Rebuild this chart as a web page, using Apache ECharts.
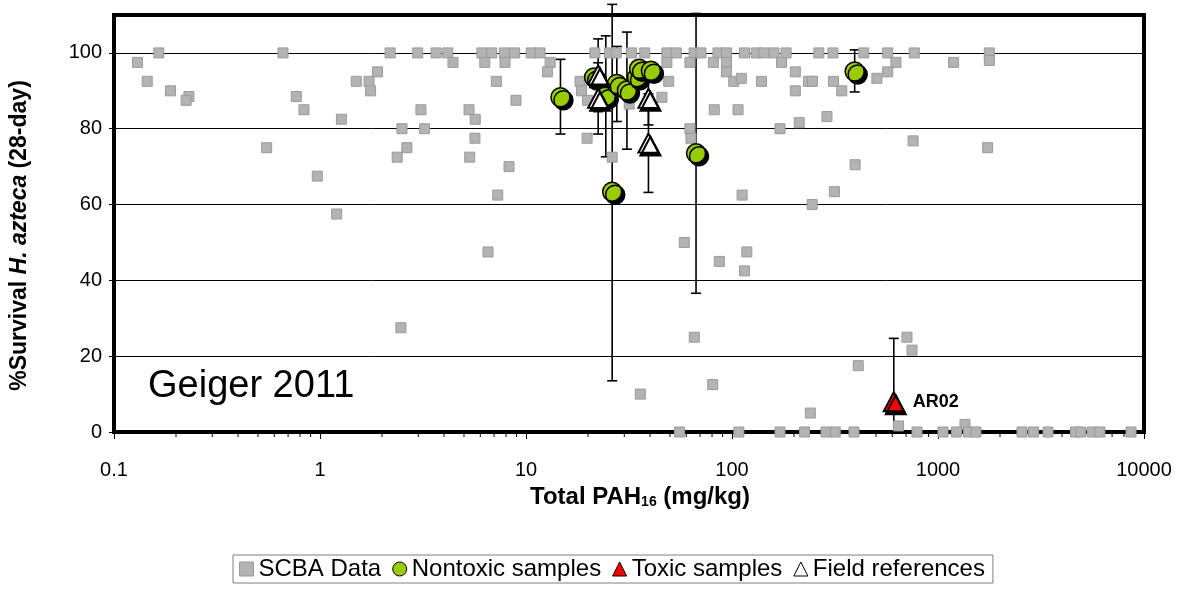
<!DOCTYPE html>
<html><head><meta charset="utf-8">
<script src="https://cdn.jsdelivr.net/npm/echarts@6/dist/echarts.min.js"></script>
<style>html,body{margin:0;padding:0;background:#fff}#c{width:1187px;height:590px}</style>
</head><body><div id="c"></div>
<script>
// ---- DATA ----
const scbaX = [
  0.165,0.130,0.145,0.188,0.231,0.224,0.661,0.767,0.836,1.27,0.551,0.970,1.205,
  2.19,2.98,3.66,4.17,4.42,1.90,1.50,1.73,1.76,3.09,2.50,3.22,2.64,2.37,
  5.29,5.67,5.65,5.33,6.11,6.81,7.85,8.81,6.31,7.91,7.18,8.94,8.27,7.29,6.54,2.47,
  10.6,11.7,21.6,25.4,27.4,32.5,37.7,48.3,53.6,65.5,70.7,85.5,94.0,115,131,143,160,183,264,309,436,570,767,1775,
  13.1,48.3,62.5,81.2,94.0,174,625,1191,1775,
  12.7,94.0,203,570,
  18.3,49.3,102,139,235,246,311,111,505,
  18.6,203,341,
  45.7,19.9,31.7,82.0,107,289,212,62.5,171,19.8,63.2,757,1742,26.2,396,314,112,245,
  58.7,86.8,118,115,65.6,410,80.6,35.9,240,707,748,643,1352,
  55.6,108,171,225,286,317,391,791,1057,1230,1406,1528,2558,2909,3420,4650,4920,5595,6110,8650
];
const scbaY = [
  100,97.5,92.5,90,88.5,87.5,100,88.5,85,82.5,75,67.5,57.5,
  100,100,100,100,97.5,95,92.5,92.5,90,85,80,80,75,72.5,
  85,82.5,77.5,72.5,100,100,100,100,97.5,97.5,92.5,87.5,70,62.5,47.5,27.5,
  100,100,100,100,100,100,100,100,100,100,100,100,100,100,100,100,100,100,100,100,100,100,100,100,
  97.5,97.5,97.5,97.5,97.5,97.5,97.5,97.5,98,
  95,95,95,95,
  92.5,92.5,92.5,92.5,92.5,92.5,92.5,93.3,93.3,
  90,90,90,
  88.3,87.5,86.5,85,85,83.2,81.6,80,80,77.5,77.5,76.8,75,72.5,70.5,63.4,62.5,60,
  50,45,47.5,42.5,25,17.5,12.5,10,5,25,21.6,1.6,2,
  0,0,0,0,0,0,0,0,0,0,0,0,0,0,0,0,0,0,0,0
];
const nontoxicX    = [14.7, 21.4, 24.4, 26.2, 27.6, 30.9, 34.6, 35.4, 40.4, 66.9, 394];
const nontoxicY    = [88.3, 93.5, 88.6, 63.4, 91.8, 90.1, 93.6, 95.8, 95.3, 73.5, 95.1];
const nontoxicLow  = [78.6, null, 72.6, 13.5, 81.9, 74.6, null, null, null, 36.6, 89.7];
const nontoxicHigh = [98.3, null, 104.5, 112.8, 101.7, 105.5, null, null, null, 110.4, 100.8];
const fieldX    = [22.4, 22.4, 39.3, 39.3];
const fieldY    = [94.2, 88.0, 88.0, 76.2];
const fieldLow  = [84.5, 78.6, 81.0, 63.2];
const fieldHigh = [103.7, 97.4, 95.0, 89.2];
const toxicX    = [610];
const toxicY    = [8.0];
const toxicLow  = [0];
const toxicHigh = [24.7];
const toxicNames = ['AR02'];
const xTickLabels = ['0.1','1','10','100','1000','10000'];
const yTicks = [0,20,40,60,80,100];

// ---- build ----
const scbaData = scbaX.map((x,i)=>[x, scbaY[i]]);
const nontoxData = nontoxicX.map((x,i)=>[x, nontoxicY[i]]);
const fieldData = fieldX.map((x,i)=>[x, fieldY[i]]);
const toxicData = toxicX.map((x,i)=>({value:[x, toxicY[i]], name: toxicNames[i]}));
const errData = [];
nontoxicX.forEach((x,i)=>{ if(nontoxicLow[i]!=null) errData.push([x, nontoxicLow[i], nontoxicHigh[i]]); });
fieldX.forEach((x,i)=>errData.push([x, fieldLow[i], fieldHigh[i]]));
toxicX.forEach((x,i)=>errData.push([x, toxicLow[i], toxicHigh[i]]));
const minorTicks = [];
for (let d=-1; d<4; d++) for (let m=2; m<=9; m++) minorTicks.push([m*Math.pow(10,d)]);

const sans = "'Liberation Sans',Arial,sans-serif";

const chart = echarts.init(document.getElementById('c'), null, {renderer:'canvas'});
chart.setOption({
  animation:false,
  backgroundColor:'#fff',
  grid:{left:113, top:15, right:43, bottom:158, show:true, borderColor:'#000', borderWidth:4, backgroundColor:'transparent'},
  xAxis:{
    type:'log', logBase:10, min:0.1, max:10000,
    axisLine:{show:true, onZero:false, lineStyle:{color:'#000', width:3}},
    axisTick:{show:true, length:7, lineStyle:{color:'#000', width:1}},
    splitLine:{show:false},
    axisLabel:{color:'#000', fontSize:20, fontFamily:sans, margin:28,
      formatter:v=>xTickLabels[Math.round(Math.log10(v))+1]},
    name:'Total PAH{sub|16} (mg/kg)', nameLocation:'middle', nameGap:52,
    nameTextStyle:{color:'#000', fontSize:24, fontWeight:'bold', fontFamily:sans, padding:[0,0,0,22],
      rich:{sub:{fontSize:14, fontWeight:'bold', fontFamily:sans, verticalAlign:'bottom', padding:[10,0,0,0]}}}
  },
  yAxis:{
    type:'value', min:0, max:110, interval:20,
    axisLine:{show:false},
    axisTick:{show:true, length:5, lineStyle:{color:'#000'}},
    splitLine:{show:true, lineStyle:{color:'#000', width:1}},
    axisLabel:{color:'#000', fontSize:20, fontFamily:sans, margin:12, showMaxLabel:false,
      formatter:v=> yTicks.indexOf(v)>=0 ? String(v) : ''},
    name:'{b|%Survival }{bi|H. azteca}{b| (28-day)}', nameLocation:'middle', nameGap:83,
    nameTextStyle:{color:'#000', padding:[0,24,0,0], rich:{
      b:{fontSize:23, fontWeight:'bold', fontFamily:sans, color:'#000'},
      bi:{fontSize:23, fontWeight:'bold', fontStyle:'italic', fontFamily:sans, color:'#000'}}}
  },
  legend:{
    show:true, left:233, top:555, itemGap:11, itemWidth:14, itemHeight:14,
    borderColor:'#7f7f7f', borderWidth:1, padding:[2,8,2,6],
    textStyle:{fontSize:24, fontFamily:sans, color:'#000'},
    data:[
      {name:'SCBA Data', icon:'rect', itemStyle:{color:'#b3b3b3', borderColor:'#999', borderWidth:1, shadowColor:'transparent', shadowOffsetX:0, shadowOffsetY:0}},
      {name:'Nontoxic samples', icon:'circle', itemStyle:{color:'#99cc00', borderColor:'#000', borderWidth:1, shadowColor:'transparent', shadowOffsetX:0, shadowOffsetY:0}},
      {name:'Toxic samples', icon:'triangle', itemStyle:{color:'#ff0000', borderColor:'#000', borderWidth:1, shadowColor:'transparent', shadowOffsetX:0, shadowOffsetY:0}},
      {name:'Field references', icon:'triangle', itemStyle:{color:'#fff', borderColor:'#000', borderWidth:1, shadowColor:'transparent', shadowOffsetX:0, shadowOffsetY:0}}
    ]
  },
  graphic:[{type:'text', left:148, top:368, silent:true,
    style:{text:'Geiger 2011', fontSize:38, fontFamily:sans, fill:'#000'}}],
  series:[
    {type:'custom', name:'minorTicks', silent:true, data:minorTicks, z:1,
      encode:{x:0},
      renderItem:(p,api)=>{
        const pt = api.coord([api.value(0), 0]);
        return {type:'line', shape:{x1:pt[0], y1:pt[1], x2:pt[0], y2:pt[1]+5}, style:{stroke:'#000', lineWidth:1}};
      }},
    {type:'custom', name:'errorBars', silent:true, data:errData, z:2,
      encode:{x:0, y:[1,2]},
      renderItem:(p,api)=>{
        const x = api.value(0);
        const a = api.coord([x, api.value(1)]), b = api.coord([x, api.value(2)]);
        const w = 5, st = {stroke:'#000', lineWidth:1.6};
        return {type:'group', children:[
          {type:'line', shape:{x1:a[0],y1:a[1],x2:b[0],y2:b[1]}, style:st},
          {type:'line', shape:{x1:a[0]-w,y1:a[1],x2:a[0]+w,y2:a[1]}, style:st},
          {type:'line', shape:{x1:b[0]-w,y1:b[1],x2:b[0]+w,y2:b[1]}, style:st}
        ]};
      }},
    {type:'scatter', name:'SCBA Data', data:scbaData, z:3, symbol:'rect', symbolSize:10,
      itemStyle:{color:'#b3b3b3', borderColor:'#9a9a9a', borderWidth:1, opacity:1}},
    {type:'scatter', name:'Nontoxic samples', data:nontoxData, z:4, symbol:'circle', symbolSize:19,
      itemStyle:{color:'#99cc00', borderColor:'#000', borderWidth:1.5, opacity:1,
        shadowColor:'#000', shadowOffsetX:3, shadowOffsetY:3, shadowBlur:0}},
    {type:'scatter', name:'Field references', data:fieldData, z:5, symbol:'triangle', symbolSize:[20,19],
      itemStyle:{color:'#fff', borderColor:'#000', borderWidth:2, opacity:1,
        shadowColor:'#000', shadowOffsetX:2, shadowOffsetY:3, shadowBlur:0}},
    {type:'scatter', name:'Toxic samples', data:toxicData, z:5, symbol:'triangle', symbolSize:[20,19],
      itemStyle:{color:'#ff0000', borderColor:'#000', borderWidth:2, opacity:1,
        shadowColor:'#000', shadowOffsetX:2, shadowOffsetY:3, shadowBlur:0},
      label:{show:true, position:'right', distance:8, formatter:p=>p.name,
        fontSize:18, fontWeight:'bold', fontFamily:sans, color:'#000'}}
  ]
});
</script></body></html>
